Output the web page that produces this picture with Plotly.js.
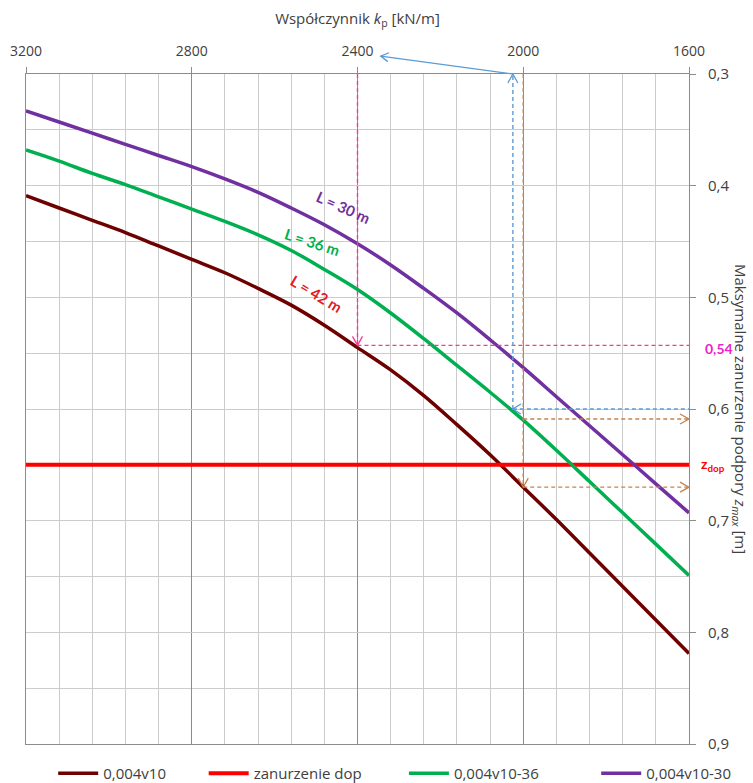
<!DOCTYPE html>
<html>
<head>
<meta charset="utf-8">
<script src="https://cdn.plot.ly/plotly-3.0.1.min.js"></script>
<style>html,body{margin:0;padding:0;background:#fff;}#chart{width:753px;height:783px;}</style>
</head>
<body>
<div id="chart"></div>
<script>
// ---- data ----
const kp = [3200,3120,3040,2960,2880,2800,2720,2640,2560,2480,2400,2320,2240,2160,2080,2000,1920,1840,1760,1680,1600];
const z42 = [0.409,0.420,0.431,0.442,0.454,0.466,0.478,0.492,0.507,0.525,0.545,0.565,0.588,0.614,0.641,0.670,0.699,0.729,0.759,0.789,0.819];
const z36 = [0.368,0.378,0.389,0.399,0.410,0.421,0.432,0.444,0.458,0.475,0.493,0.514,0.537,0.561,0.585,0.610,0.637,0.665,0.693,0.721,0.749];
const z30 = [0.333,0.343,0.353,0.363,0.373,0.383,0.394,0.406,0.420,0.435,0.452,0.471,0.492,0.514,0.538,0.563,0.589,0.615,0.641,0.667,0.693];
const kpDop = [3200,1600];
const zDop = [0.65,0.65];
const seriesNames = ['0,004v10','zanurzenie dop','0,004v10-36','0,004v10-30'];
const curveLabels = ['L = 30 m','L = 36 m','L = 42 m'];
const labelKp = [2435,2508,2498];
const labelZ = [0.419,0.450,0.497];
// guide lines (reading examples)
const pinkKp = 2400, pinkZ = 0.543;
const blueKp = 2025, blueZ = 0.600;
const brownKp = 2000, brownZ1 = 0.609, brownZ2 = 0.670;
const blueTargetKp = 2344, blueTargetZ = 0.284;
const xTicks = [3200,2800,2400,2000,1600];
const yTicks = [0.3,0.4,0.5,0.6,0.7,0.8,0.9];

const xMin = 3200, xMax = 1600, yTop = 0.3, yBot = 0.9;
const cMaroon = '#6E0000', cRed = '#FF0000', cGreen = '#00B050', cPurple = '#7030A0';
const cPink = '#FF3399', cBlue = '#5B9BD5', cBrown = '#C5834E';
const FONT = '"Open Sans", Lato, sans-serif';
const BFONT = 'Lato, "Open Sans", sans-serif';

const lineBase = {shape: 'spline', smoothing: 1};
const traces = [
  {x: kp, y: z42, name: seriesNames[0], legend: 'legend', mode: 'lines', line: Object.assign({color: cMaroon, width: 3.5}, lineBase)},
  {x: kpDop, y: zDop, name: seriesNames[1], legend: 'legend2', mode: 'lines', line: {color: cRed, width: 4}},
  {x: kp, y: z36, name: seriesNames[2], legend: 'legend3', mode: 'lines', line: Object.assign({color: cGreen, width: 3.5}, lineBase)},
  {x: kp, y: z30, name: seriesNames[3], legend: 'legend4', mode: 'lines', line: Object.assign({color: cPurple, width: 3.5}, lineBase)}
];

function dline(x0,y0,x1,y1,color){
  return {type:'line', xref:'x', yref:'y', x0:x0, y0:y0, x1:x1, y1:y1, line:{color:color, width:1.4, dash:'4px,3px'}};
}
function vhead(x,y,path,color,ref){
  return {type:'path', xref: ref||'x', yref: ref||'y', xsizemode:'pixel', ysizemode:'pixel', xanchor:x, yanchor:y,
          path:path, line:{color:color, width:1.3}};
}
const DOWN = 'M-5,9 L0,0 L5,9', UP = 'M-5,-9 L0,0 L5,-9', RIGHT = 'M-9,5 L0,0 L-9,-5', LEFT = 'M8,5 L0,0 L8,-5';
const toPX = v => (xMin - v)/(xMin - xMax);
const toPY = v => (yBot - v)/(yBot - yTop);

const shapes = [
  dline(pinkKp, yTop, pinkKp, pinkZ, cPink),
  dline(pinkKp, pinkZ, xMax, pinkZ, cPink),
  vhead(pinkKp, pinkZ, DOWN, cPink),
  dline(blueKp, blueZ, blueKp, yTop, cBlue),
  dline(blueKp, blueZ, xMax, blueZ, cBlue),
  vhead(blueKp, yTop, UP, cBlue),
  vhead(blueKp, blueZ, LEFT, cBlue),
  dline(brownKp, yTop, brownKp, brownZ2, cBrown),
  dline(brownKp, brownZ1, xMax, brownZ1, cBrown),
  dline(brownKp, brownZ2, xMax, brownZ2, cBrown),
  vhead(brownKp, brownZ2, DOWN, cBrown),
  vhead(xMax, brownZ1, RIGHT, cBrown),
  vhead(xMax, brownZ2, RIGHT, cBrown),
  {type:'line', xref:'paper', yref:'paper', x0:toPX(blueKp), y0:toPY(yTop), x1:toPX(blueTargetKp), y1:toPY(blueTargetZ), line:{color:cBlue, width:1.1}},
  vhead(toPX(blueTargetKp), toPY(blueTargetZ), 'M7.1,-5.5 L0,0 L8.3,3.4', cBlue, 'paper')
];

const annotations = [
  {x: labelKp[0], y: labelZ[0], text: '<b>'+curveLabels[0]+'</b>', showarrow:false, textangle:24, font:{family:BFONT, size:15, color:cPurple}},
  {x: labelKp[1], y: labelZ[1], text: '<b>'+curveLabels[1]+'</b>', showarrow:false, textangle:18, font:{family:BFONT, size:15, color:cGreen}},
  {x: labelKp[2], y: labelZ[2], text: '<b>'+curveLabels[2]+'</b>', showarrow:false, textangle:31, font:{family:BFONT, size:15, color:'#E0201F'}},
  {xref:'paper', x:1, xanchor:'left', xshift:14, y:pinkZ, yshift:-3, text:'<b>0,54</b>', showarrow:false, font:{family:BFONT, size:14, color:'#EE22CC'}},
  {xref:'paper', x:1, xanchor:'left', xshift:10, y:zDop[0], text:'<b>z<sub>dop</sub></b>', showarrow:false, font:{family:BFONT, size:14, color:cRed}},
  {xref:'paper', yref:'paper', x:1, xshift:51, y:0.5, xanchor:'center', yanchor:'middle', textangle:90, showarrow:false,
   text:'Maksymalne zanurzenie podpory <i>z</i><sub><i>max</i></sub> [m]', font:{family:FONT, size:15, color:'#404040'}}
];

function leg(x){
  return {orientation: 'h', x: x, xanchor: 'left', y: -0.044, yanchor: 'middle', bgcolor: 'rgba(0,0,0,0)',
          font: {family: FONT, size: 15, color: '#404040'}, itemwidth: 40};
}

const layout = {
  width: 753, height: 783,
  margin: {l: 26, r: 64, t: 74, b: 39, autoexpand: false},
  paper_bgcolor: '#fff', plot_bgcolor: '#fff',
  separators: ', ',
  font: {family: FONT, size: 14, color: '#404040'},
  showlegend: true,
  legend: leg(0.041), legend2: leg(0.268), legend3: leg(0.570), legend4: leg(0.860),
  xaxis: {
    side: 'top', range: [xMin, xMax], tickvals: xTicks, ticks: 'outside', ticklen: 6, tickcolor: '#8C8C8C',
    ticklabelstandoff: 5,
    showgrid: true, gridcolor: '#8C8C8C', gridwidth: 1,
    minor: {dtick: 80, showgrid: true, gridcolor: '#CCCCCC', gridwidth: 1, ticks: ''},
    showline: true, linecolor: '#8C8C8C', linewidth: 1, mirror: true, zeroline: false,
    tickfont: {family: FONT, size: 14, color: '#404040'},
    title: {text: 'Współczynnik <i>k</i><sub>p</sub> [kN/m]', font: {family: FONT, size: 15, color: '#404040'}, standoff: 13}
  },
  yaxis: {
    side: 'right', range: [yBot, yTop], tickvals: yTicks, tickformat: '.1f', ticks: 'outside', ticklen: 6, tickcolor: '#8C8C8C',
    ticklabelstandoff: 9,
    showgrid: true, gridcolor: '#CCCCCC', gridwidth: 1,
    minor: {dtick: 0.05, showgrid: true, gridcolor: '#CCCCCC', gridwidth: 1, ticks: ''},
    showline: true, linecolor: '#8C8C8C', linewidth: 1, mirror: true, zeroline: false,
    tickfont: {family: FONT, size: 15, color: '#404040'}
  },
  shapes: shapes,
  annotations: annotations
};

Plotly.newPlot('chart', traces, layout, {displayModeBar: false, staticPlot: true});
</script>
</body>
</html>
